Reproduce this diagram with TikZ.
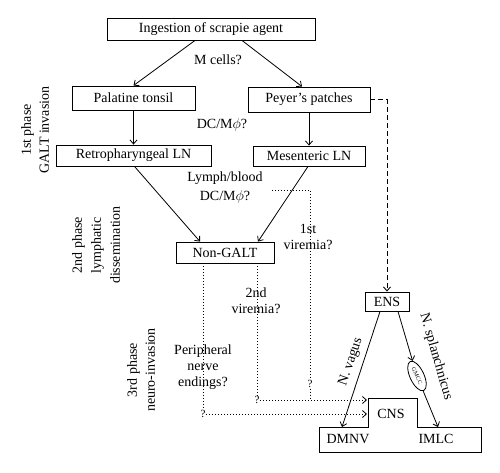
\documentclass[tikz,border=0pt]{standalone}
\usepackage{fontspec}
\setmainfont{Liberation Serif}
\usetikzlibrary{arrows.meta,shapes.geometric}
\begin{document}
\begin{tikzpicture}[x=1pt,y=-1pt,
  every node/.style={font=\fontsize{14}{18}\selectfont, inner sep=0pt},
  box/.style={draw, line width=0.9pt, minimum height=#1},
  lbl/.style={align=center},
  qm/.style={font=\fontsize{11}{11}\selectfont, inner sep=0.6pt},
  line/.style={line width=0.8pt},
  arr/.style={line width=0.8pt, -{Straight Barb[length=4pt,width=7pt]}},
  dots/.style={line width=0.8pt, dash pattern=on 0.8pt off 2.2pt},
  dashes/.style={line width=0.9pt, dash pattern=on 5pt off 3pt}]
\useasboundingbox (0,0) rectangle (500,472);

% boxes
\node[box=22pt, minimum width=208pt] (ingest) at (211,29) {Ingestion of scrapie agent};
\node[box=24pt, minimum width=123pt] (palatine) at (133.5,98) {Palatine tonsil};
\node[box=25pt, minimum width=122pt] (peyer) at (309,99.5) {Peyer's patches};
\node[box=21pt, minimum width=155pt] (retro) at (133.5,155.5) {Retropharyngeal LN};
\node[box=20pt, minimum width=112pt] (mesen) at (309,156) {Mesenteric LN};
\node[box=21pt, minimum width=98pt] (nongalt) at (225,252.5) {Non-GALT};
\node[box=19pt, minimum width=44pt] (ens) at (387,301.5) {ENS};

% solid arrows of the GALT part
\draw[arr] ([xshift=-16pt]ingest.south) -- (palatine.north);
\draw[arr] ([xshift=31pt]ingest.south) -- ([xshift=-7pt]peyer.north);
\draw[arr] (palatine.south) -- (retro.north);
\draw[arr] (peyer.south) -- (mesen.north);
\draw[arr] ([xshift=1pt]retro.south) -- ([xshift=-25pt]nongalt.north);
\draw[arr] ([xshift=-1pt]mesen.south) -- ([xshift=33pt]nongalt.north);

% labels
\node (mcells) at (218,60) {M cells?};
\node (dc1) at (222,125) {DC/M$\phi$?};
\node (lymph) at (225,178) {Lymph/blood};
\node (dc2) at (225,197) {DC/M$\phi$?};
\node[lbl] (vir1) at (308,237) {1st\\[-2pt]viremia?};
\node[lbl] (vir2) at (256,301) {2nd\\[-2pt]viremia?};
\node[lbl] (periph) at (203,367) {Peripheral\\[-2pt]nerve\\[-2pt]endings?};

% phase labels
\node[lbl, rotate=90] (ph1) at (35,130) {1st phase\\GALT invasion};
\node[lbl, rotate=90] (ph2) at (96,245) {2nd phase\\[1pt]lymphatic\\[1pt]dissemination};
\node[lbl, rotate=90] (ph3) at (141,370) {3rd phase\\neuro-invasion};

% CNS shape
\coordinate (k1) at (319,427);
\coordinate (k2) at (368,427);
\coordinate (k3) at (368,398);
\coordinate (k4) at (417,398);
\coordinate (k5) at (417,427);
\coordinate (k6) at (481,427);
\coordinate (k7) at (481,452);
\coordinate (k8) at (319,452);
\draw[line width=0.9pt] (k1) -- (k2) -- (k3) -- (k4) -- (k5) -- (k6) -- (k7) -- (k8) -- cycle;
\node (cns) at (391,414) {CNS};
\node (dmnv) at (348,439) {DMNV};
\node (imlc) at (436,439) {IMLC};

% question marks
\node[qm] (q1) at (310,384) {?};
\node[qm] (q2) at (257,400) {?};
\node[qm] (q3) at (203,414) {?};

% dotted routes
\coordinate (v1s) at (272,190);
\coordinate (v1c) at (310,190);
\coordinate (v1e) at (310,400);
\coordinate (cnsA) at (367,400);
\coordinate (cnsB) at (367,414);
\draw[dots] (v1s) -- (v1c) -- (q1);
\draw[dots] (q1) -- (v1e);
\draw[dots] ([xshift=32pt]nongalt.south) -- (q2);
\draw[dots, -{Straight Barb[length=4pt,width=7pt]}] (q2) -- (cnsA);
\draw[dots] ([xshift=-22pt]nongalt.south) -- (q3);
\draw[dots, -{Straight Barb[length=4pt,width=7pt]}] (q3) -- (cnsB);

% dashed route
\draw[dashes, -{Straight Barb[length=4pt,width=7pt]}] (peyer.east) -| (ens.north);

% nerves
\coordinate (dmnvT) at (342,427);
\coordinate (imlcT) at (438,427);
\node[draw, ellipse, line width=0.8pt, rotate=-65, minimum width=32pt, minimum height=14pt,
      font=\fontsize{6}{6}\selectfont] (gmcc) at (417,376) {GMCC};
\draw[arr] ([xshift=-7pt]ens.south) -- (dmnvT);
\draw[arr] ([xshift=11pt]ens.south) -- (gmcc);
\draw[arr] (gmcc) -- (imlcT);
\node[rotate=71] (vagus) at (351,362) {N. vagus};
\node[rotate=-74] (splanch) at (436,357) {N. splanchnicus};
\end{tikzpicture}
\end{document}
